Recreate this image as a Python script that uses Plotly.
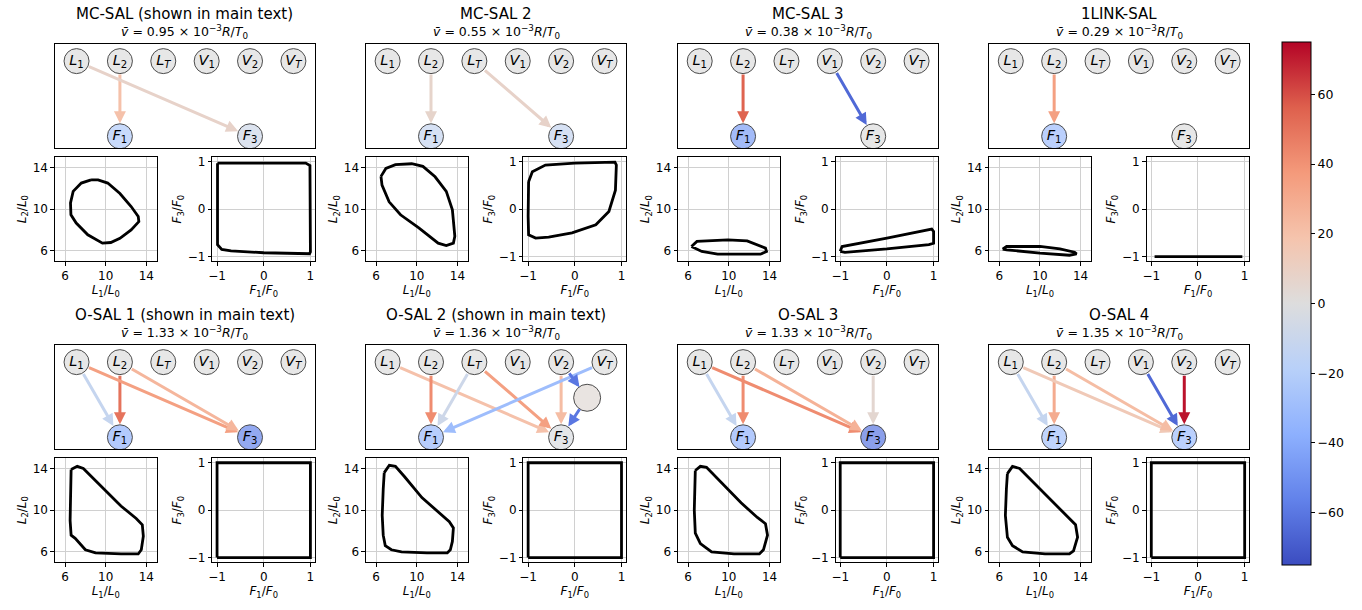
import plotly.graph_objects as go

W, H = 1362, 610
FONT = "DejaVu Sans"

# ---------------- data ----------------
titles = ["MC-SAL (shown in main text)", "MC-SAL 2", "MC-SAL 3", "1LINK-SAL",
          "O-SAL 1 (shown in main text)", "O-SAL 2 (shown in main text)", "O-SAL 3", "O-SAL 4"]
vbar = [0.95, 0.55, 0.38, 0.29, 1.33, 1.36, 1.33, 1.35]

top_nodes = ["L1", "L2", "LT", "V1", "V2", "VT"]
bottom_nodes = ["F1", "F3"]
node_text = {"L1": "<i>L</i><sub>1</sub>", "L2": "<i>L</i><sub>2</sub>", "LT": "<i>L</i><sub><i>T</i></sub>",
             "V1": "<i>V</i><sub>1</sub>", "V2": "<i>V</i><sub>2</sub>", "VT": "<i>V</i><sub><i>T</i></sub>",
             "F1": "<i>F</i><sub>1</sub>", "F3": "<i>F</i><sub>3</sub>", "H": ""}

# node values (F1, F3)
f_values = [(-22, -8), (-12, -12), (-45, 0), (-30, 0), (-35, -55), (-32, -2), (-35, -60), (-27, -30)]
hidden_value = {5: 3}

edges = [
    [("L2", "F1", 20), ("L1", "F3", 8)],
    [("L2", "F1", 7), ("LT", "F3", 8)],
    [("L2", "F1", 55), ("V1", "F3", -65)],
    [("L2", "F1", 35)],
    [("L1", "F1", -12), ("L2", "F1", 50), ("L1", "F3", 35), ("L2", "F3", 25)],
    [("L1", "F3", 20), ("L2", "F1", 42), ("LT", "F1", -8), ("LT", "F3", 35),
     ("V2", "F3", 22), ("VT", "F1", -30), ("V2", "H", -60), ("H", "F3", -60)],
    [("L1", "F1", -12), ("L2", "F1", 42), ("L1", "F3", 42), ("L2", "F3", 27), ("V2", "F3", 5)],
    [("L1", "F1", -12), ("L2", "F1", 30), ("L1", "F3", 15), ("L2", "F3", 22),
     ("V1", "F3", -65), ("V2", "F3", 72)],
]

L1_traj = [
    [8.56, 7.6, 6.8, 6.54, 6.58, 7.1, 8.24, 9.68, 10.5, 11.4, 12.5, 13.26, 13.2, 12.5, 11.4, 10.2, 9.25, 8.56],
    [6.48, 6.96, 7.9, 9.5, 10.6, 11.8, 12.9, 13.5, 13.74, 13.6, 12.9, 12.1, 10.2, 8.4, 7.28, 6.58, 6.48],
    [6.32, 6.86, 9.9, 11.8, 13.6, 13.7, 13.1, 8.9, 7.34, 6.32],
    [6.33, 6.72, 10.0, 11.96, 13.4, 13.6, 12.9, 10.0, 6.72, 6.33],
    [6.6, 7.2, 7.8, 9.5, 11.5, 13.0, 13.6, 13.7, 13.5, 13.2, 11.5, 9.0, 8.0, 7.0, 6.6, 6.5, 6.6, 6.6],
    [6.8, 7.3, 7.9, 8.8, 10.5, 12.2, 13.2, 13.6, 13.5, 13.3, 13.0, 11.0, 8.5, 7.5, 6.9, 6.7, 6.6, 6.7, 6.8],
    [6.7, 7.2, 7.8, 9.3, 11.2, 12.8, 13.6, 13.8, 13.4, 13.0, 10.5, 8.3, 7.2, 6.7, 6.6, 6.7],
    [6.8, 7.3, 8.0, 9.5, 11.2, 12.8, 13.5, 13.7, 13.3, 12.9, 10.5, 8.3, 7.3, 6.8, 6.6, 6.7, 6.8],
]
L2_traj = [
    [12.8, 12.5, 11.7, 10.6, 9.46, 8.66, 7.54, 6.74, 6.8, 7.2, 8.0, 8.8, 9.3, 10.25, 11.5, 12.5, 12.8, 12.8],
    [13.14, 13.9, 14.26, 14.35, 14.1, 13.1, 11.7, 9.94, 7.4, 6.74, 6.5, 6.74, 8.2, 9.46, 10.7, 12.3, 13.14],
    [6.42, 6.9, 7.06, 6.96, 6.26, 5.94, 5.68, 5.68, 5.94, 6.42],
    [6.16, 6.42, 6.42, 6.19, 5.87, 5.71, 5.58, 5.78, 6.1, 6.16],
    [13.9, 14.2, 14.0, 12.3, 10.4, 9.2, 8.6, 7.5, 6.2, 5.8, 5.8, 5.9, 6.2, 7.3, 7.6, 9.0, 12.0, 13.9],
    [13.6, 14.3, 14.2, 13.2, 11.2, 9.7, 8.9, 8.3, 7.0, 6.2, 5.9, 5.9, 6.0, 6.2, 6.6, 7.6, 9.5, 12.0, 13.6],
    [13.8, 14.2, 14.1, 12.6, 10.7, 9.3, 8.7, 7.6, 6.2, 5.8, 5.8, 6.0, 6.8, 7.8, 10.0, 13.8],
    [13.5, 14.2, 14.0, 12.5, 10.8, 9.3, 8.6, 7.4, 6.1, 5.8, 5.8, 6.0, 6.6, 7.4, 9.5, 12.0, 13.5],
]
square_F1 = [-1.0, 1.0, 1.0, -1.0, -1.0]
square_F3 = [-1.0, -1.0, 1.0, 1.0, -1.0]
F1_traj = [
    [-0.99, 0.9, 0.99, 1.0, 0.98, 0.0, -0.7, -0.9, -0.99, -1.0, -0.99],
    [-0.99, -0.91, -0.63, 0.0, 0.86, 0.89, 0.87, 0.73, 0.45, -0.06, -0.56, -0.84, -0.99, -1.0, -0.99],
    [-1.0, -0.96, 0.0, 0.68, 0.96, 1.0, 1.0, 0.9, 0.0, -0.9, -1.0],
    [-0.93, 0.95],
    square_F1, square_F1, square_F1, square_F1,
]
F3_traj = [
    [0.97, 0.97, 0.92, -0.9, -0.94, -0.92, -0.88, -0.85, -0.75, 0.9, 0.97],
    [0.58, 0.79, 0.93, 0.97, 0.99, 0.93, 0.4, -0.05, -0.33, -0.5, -0.59, -0.61, -0.54, -0.15, 0.58],
    [-0.89, -0.79, -0.61, -0.47, -0.42, -0.47, -0.72, -0.75, -0.84, -0.91, -0.89],
    [-1.0, -1.0],
    square_F3, square_F3, square_F3, square_F3,
]

cbar_ticks = [-60, -40, -20, 0, 20, 40, 60]
cmin, cmax = -75, 75

# ---------------- styling / layout ----------------
coolwarm = [(0.0, (59, 76, 192)), (0.125, (98, 130, 234)), (0.25, (141, 176, 254)),
            (0.375, (184, 208, 249)), (0.5, (221, 221, 221)), (0.625, (245, 196, 173)),
            (0.75, (244, 154, 123)), (0.875, (222, 96, 77)), (1.0, (180, 4, 38))]
colorscale = [[p, "rgb(%d,%d,%d)" % c] for p, c in coolwarm]


def cw(v):
    t = min(max((v - cmin) / (cmax - cmin), 0.0), 1.0)
    for (p0, c0), (p1, c1) in zip(coolwarm[:-1], coolwarm[1:]):
        if t <= p1:
            f = (t - p0) / (p1 - p0) if p1 > p0 else 0
            return "rgb(%d,%d,%d)" % tuple(round(a + (b - a) * f) for a, b in zip(c0, c1))
    return "rgb(%d,%d,%d)" % coolwarm[-1][1]


node_pos = {n: (i + 0.5, 2.0) for i, n in enumerate(top_nodes)}
node_pos["F1"] = (1.5, 0.27)
node_pos["F3"] = (4.5, 0.27)
node_pos["H"] = (5.1, 1.18)

col_left = [51, 363, 676, 988]
row_off = [0, 303]

fig = go.Figure()
layout = {}
annotations = []
axn = [0]


def add_axes(l, r, t, b, xa, ya):
    axn[0] += 1
    n = axn[0]
    xk = "xaxis" if n == 1 else "xaxis%d" % n
    yk = "yaxis" if n == 1 else "yaxis%d" % n
    xr = "x" if n == 1 else "x%d" % n
    yr = "y" if n == 1 else "y%d" % n
    layout[xk] = dict(domain=[l / W, r / W], anchor=yr, **xa)
    layout[yk] = dict(domain=[1 - b / H, 1 - t / H], anchor=xr, **ya)
    return xr, yr


net_ax = dict(showticklabels=False, ticks="", showgrid=False, zeroline=False,
              showline=True, mirror=True, linecolor="black", linewidth=1, fixedrange=True)


def small_ax(rng, tv, title):
    return dict(range=rng, tickvals=tv, ticktext=[("−%g" % -v) if v < 0 else "%g" % v for v in tv],
                showline=True, mirror=True, linecolor="black", linewidth=1,
                ticks="outside", ticklen=3.5, tickwidth=1, tickcolor="black",
                showgrid=True, gridcolor="#d0d0d0", gridwidth=1, zeroline=False,
                tickfont=dict(size=12, family=FONT, color="black"),
                title=dict(text=title, font=dict(size=12, family=FONT, color="black"), standoff=3))


for p in range(8):
    col, row = p % 4, p // 4
    cl, dy = col_left[col], row_off[row]
    cx = (cl + 130.5) / W
    annotations.append(dict(text=titles[p], x=cx, y=1 - (12 + dy) / H, xref="paper", yref="paper",
                            showarrow=False, font=dict(size=15, family=FONT, color="black"),
                            xanchor="center", yanchor="middle"))
    annotations.append(dict(text="<i>v\u0304</i> = %.2f × 10<sup>−3</sup><i>R</i>/<i>T</i><sub>0</sub>" % vbar[p],
                            x=cx, y=1 - (30 + dy) / H, xref="paper", yref="paper",
                            showarrow=False, font=dict(size=12.5, family=FONT, color="black"),
                            xanchor="center", yanchor="middle"))

    # network
    xr, yr = add_axes(cl, cl + 261, 42 + dy, 147 + dy,
                      dict(range=[0, 6], **net_ax), dict(range=[0, 2.4], **net_ax))
    names = list(top_nodes) + list(bottom_nodes)
    vals = [0] * len(top_nodes) + list(f_values[p])
    if p in hidden_value:
        names.append("H")
        vals.append(hidden_value[p])
    for s, t, v in edges[p]:
        sx, sy = node_pos[s]
        tx, ty = node_pos[t]
        annotations.append(dict(x=tx, y=ty, ax=sx, ay=sy, xref=xr, yref=yr, axref=xr, ayref=yr,
                                text="", showarrow=True, arrowhead=2, arrowsize=0.8, arrowwidth=3,
                                arrowcolor=cw(v), standoff=13, startstandoff=12))
    fig.add_trace(go.Scatter(
        x=[node_pos[n][0] for n in names], y=[node_pos[n][1] for n in names],
        xaxis=xr, yaxis=yr, mode="markers+text",
        text=[node_text[n] for n in names], textposition="middle center",
        textfont=dict(size=14.5, family=FONT, color="black"),
        marker=dict(size=[27 if n == "H" else 25 for n in names], color=[cw(v) for v in vals],
                    line=dict(color="black", width=1)),
        hoverinfo="skip", showlegend=False))

    # L1-L2 trajectory
    xr, yr = add_axes(cl, cl + 102, 156 + dy, 261 + dy,
                      small_ax([5, 15], [6, 10, 14], "<i>L</i><sub>1</sub>/<i>L</i><sub>0</sub>"),
                      small_ax([5, 15], [6, 10, 14], "<i>L</i><sub>2</sub>/<i>L</i><sub>0</sub>"))
    fig.add_trace(go.Scatter(x=L1_traj[p], y=L2_traj[p], xaxis=xr, yaxis=yr, mode="lines",
                             line=dict(color="black", width=2.8), hoverinfo="skip", showlegend=False))

    # F1-F3 trajectory
    xr, yr = add_axes(cl + 158, cl + 261, 156 + dy, 261 + dy,
                      small_ax([-1.1, 1.1], [-1, 0, 1], "<i>F</i><sub>1</sub>/<i>F</i><sub>0</sub>"),
                      small_ax([-1.1, 1.1], [-1, 0, 1], "<i>F</i><sub>3</sub>/<i>F</i><sub>0</sub>"))
    fig.add_trace(go.Scatter(x=F1_traj[p], y=F3_traj[p], xaxis=xr, yaxis=yr, mode="lines",
                             line=dict(color="black", width=2.8), hoverinfo="skip", showlegend=False))

# colorbar
fig.add_trace(go.Scatter(
    x=[3], y=[1.2], xaxis="x", yaxis="y", mode="markers", hoverinfo="skip", showlegend=False,
    marker=dict(size=1, opacity=0, color=[0], colorscale=colorscale, cmin=cmin, cmax=cmax,
                showscale=True,
                colorbar=dict(x=1282 / W, xanchor="left", y=1 - 303.5 / H, yanchor="middle",
                              thickness=29, thicknessmode="pixels", len=523, lenmode="pixels",
                              xpad=0, ypad=0, outlinewidth=1, outlinecolor="black",
                              tickvals=cbar_ticks, ticks="outside", ticklen=4, tickcolor="black",
                              tickfont=dict(size=12.5, family=FONT, color="black")))))

fig.update_layout(width=W, height=H, margin=dict(l=0, r=0, t=0, b=0),
                  paper_bgcolor="white", plot_bgcolor="white", showlegend=False,
                  font=dict(family=FONT, color="black"), annotations=annotations, **layout)
fig.write_html("out.html")
